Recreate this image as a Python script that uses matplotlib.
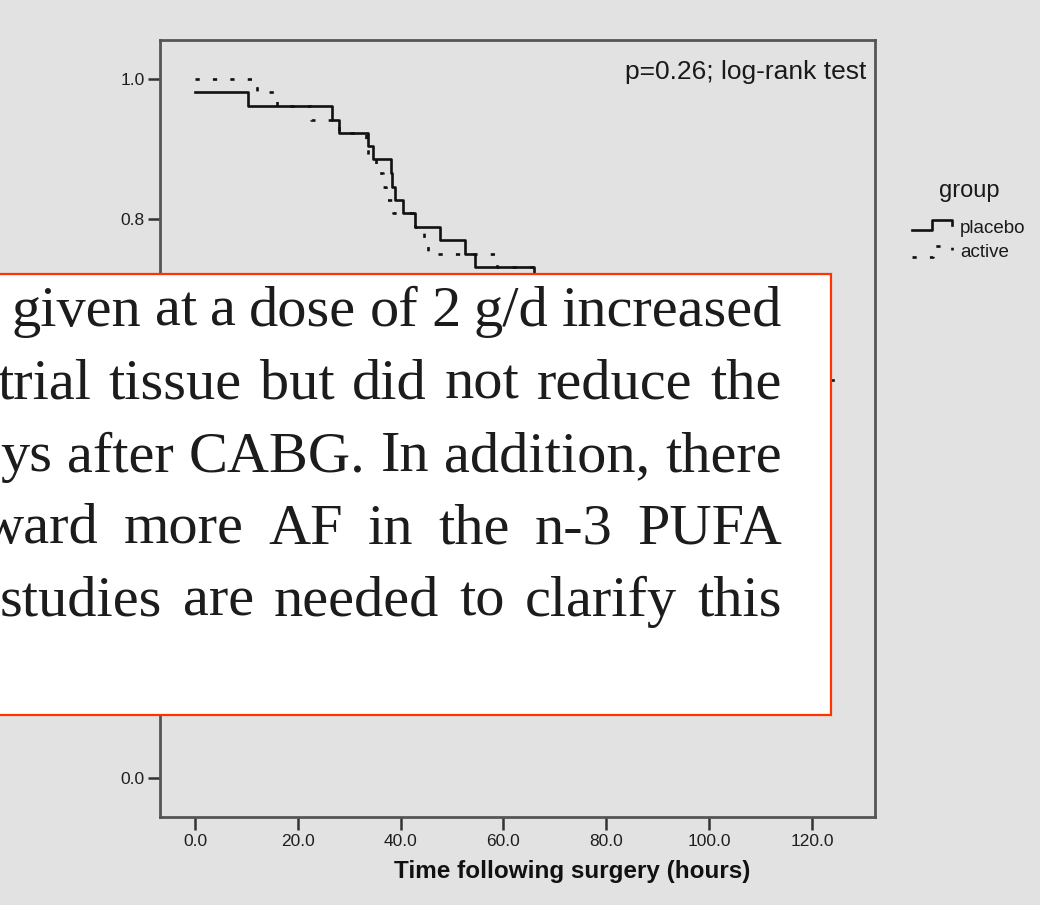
import matplotlib
matplotlib.use("Agg")
import matplotlib.pyplot as plt
from matplotlib.lines import Line2D
from matplotlib.patches import Rectangle

W, H = 1040, 905
BG = "#e2e2e2"
INK = "#111111"

# Kaplan-Meier curves (freedom from AF) per treatment arm
placebo_t = [0.0, 10.3, 26.6, 28.0, 33.6, 34.6, 38.2, 38.4, 38.9, 40.5, 42.8, 47.6, 52.5, 54.5, 66.0, 124.0]
placebo_s = [0.981, 0.962, 0.942, 0.923, 0.904, 0.885, 0.865, 0.846, 0.827, 0.808, 0.788, 0.769, 0.750, 0.731, 0.570, 0.570]
active_t = [0.0, 12.0, 16.0, 22.5, 28.0, 33.3, 33.6, 35.2, 36.5, 37.2, 38.6, 42.8, 44.5, 45.3, 58.7, 66.0]
active_s = [1.000, 0.981, 0.962, 0.942, 0.923, 0.904, 0.885, 0.865, 0.846, 0.827, 0.808, 0.788, 0.769, 0.750, 0.731, 0.731]

x_ticks = [0, 20, 40, 60, 80, 100, 120]
y_ticks = [0.0, 0.2, 0.4, 0.6, 0.8, 1.0]
group_labels = ["placebo", "active"]
p_text = "p=0.26; log-rank test"
x_label = "Time following surgery (hours)"

# excerpt pasted over the plot
excerpt = [
    "given at a dose of 2 g/d increased",
    "trial tissue but did not reduce the",
    "ys after CABG. In addition, there",
    "ward more AF in the n-3 PUFA",
    "studies are needed to clarify this",
]
excerpt_left = [12, -3, 0, -18, 0]
excerpt_base = [326, 398.5, 471, 543.5, 616]

SANS = ["Liberation Sans", "DejaVu Sans"]
SERIF = ["Liberation Serif", "DejaVu Serif"]
plt.rcParams["font.family"] = SANS


def fx(px):
    return px / W


def fy(py):
    return 1 - py / H


fig = plt.figure(figsize=(W / 100, H / 100), dpi=100, facecolor=BG)
ax = fig.add_axes([fx(160), fy(817), 715 / W, 777 / H], facecolor=BG)

ax.step(placebo_t, placebo_s, where="post", color=INK, lw=1.9)
ax.step(active_t, active_s, where="post", color=INK, lw=1.9,
        linestyle=(0, (1.6, 5.0)))

ax.set_xlim(-6.8, 132.25)
ax.set_ylim(-0.0558, 1.0558)
ax.set_xticks(x_ticks)
ax.set_xticklabels([f"{v:.1f}" for v in x_ticks])
ax.set_yticks(y_ticks)
ax.set_yticklabels([f"{v:.1f}" for v in y_ticks])
ax.tick_params(direction="out", length=9, width=1.8, color="#333333",
               labelsize=12.5, labelcolor="#1e1e1e")
ax.tick_params(axis="y", pad=2)
ax.tick_params(axis="x", pad=3)
# labels of the middle ticks sit under the pasted excerpt
for v, lbl in zip(y_ticks, ax.get_yticklabels()):
    if 0.1 < v < 0.7:
        lbl.set_visible(False)
for sp in ax.spines.values():
    sp.set_color("#555555")
    sp.set_linewidth(2.0)

fig.text(fx(866), fy(79), p_text, ha="right", va="baseline",
         fontsize=19, color="#1a1a1a")
fig.text(fx(572), fy(871), x_label, ha="center", va="center",
         fontsize=17.5, fontweight="bold", color="#111111")

# legend drawn by hand: SPSS-style step glyphs
fig.text(fx(969), fy(197), "group", ha="center", va="baseline",
         fontsize=17, color="#1a1a1a")
fig.text(fx(960), fy(233), group_labels[0], ha="left", va="baseline",
         fontsize=13.5, color="#1a1a1a")
fig.text(fx(960), fy(257), group_labels[1], ha="left", va="baseline",
         fontsize=13.5, color="#1a1a1a")
fig.add_artist(Line2D([fx(912), fx(932), fx(932), fx(952), fx(952)],
                      [fy(230), fy(230), fy(220), fy(220), fy(225)],
                      transform=fig.transFigure, color=INK, lw=1.9))
fig.add_artist(Line2D([fx(912), fx(933), fx(933), fx(952), fx(952)],
                      [fy(257), fy(257), fy(246), fy(246), fy(250)],
                      transform=fig.transFigure, color=INK, lw=1.9,
                      linestyle=(0, (1.6, 5.0))))

# white clipping with red frame, text set justified
fig.add_artist(Rectangle((fx(-10), fy(715)), 841 / W, 441 / H,
                         transform=fig.transFigure, facecolor="white",
                         edgecolor="#ff3300", lw=1.6, zorder=5))

renderer = fig.canvas.get_renderer()
right = 782
for line, left, base in zip(excerpt, excerpt_left, excerpt_base):
    words = line.split()
    items = [fig.text(0, fy(base), w, family=SERIF, fontsize=42,
                      color="#1c1c1c", ha="left", va="baseline", zorder=6)
             for w in words]
    widths = [t.get_window_extent(renderer).width for t in items]
    gap = (right - left - sum(widths)) / (len(words) - 1)
    x = left
    for t, w in zip(items, widths):
        t.set_x(fx(x))
        x += w + gap

fig.savefig("out.png", dpi=100, facecolor=BG)
